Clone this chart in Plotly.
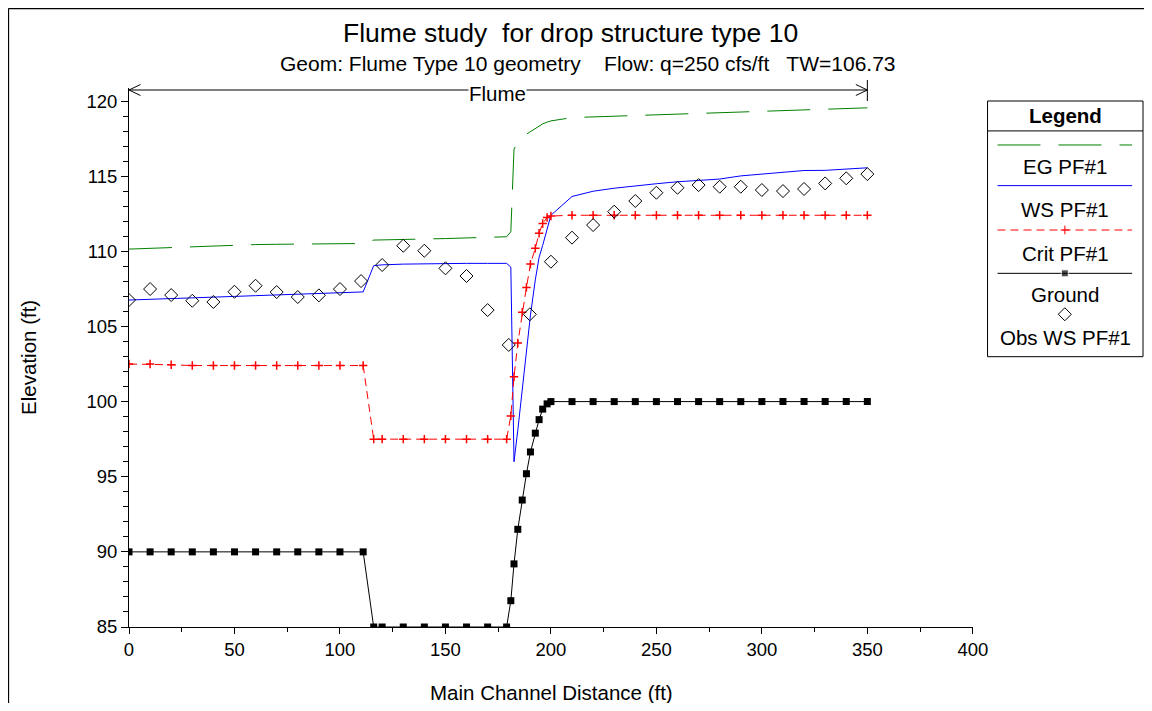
import plotly.graph_objects as go

# cross-section stations (ft) shared by the profile series
stations = [0, 10, 20, 30, 40, 50, 60, 70, 80, 90, 100, 111, 116, 120, 130, 140, 150, 160,
            170, 179, 181, 182.5, 184.3, 186.4, 188.4, 190.3, 192.6, 194.4, 196.1, 198.2, 200,
            210, 220, 230, 240, 250, 260, 270, 280, 290, 300, 310, 320, 330, 340, 350]

eg_pf1 = [110.15, 110.2, 110.27, 110.32, 110.38, 110.42, 110.45, 110.47, 110.49, 110.5, 110.5,
          110.52, 110.75, 110.77, 110.8, 110.82, 110.85, 110.88, 110.93, 110.97, 111.3, 116.8,
          117.25, 117.6, 117.8, 117.96, 118.2, 118.35, 118.48, 118.6, 118.68, 118.9, 118.95,
          118.98, 119.02, 119.07, 119.12, 119.18, 119.23, 119.3, 119.35, 119.4, 119.45, 119.48,
          119.52, 119.55]

ws_pf1 = [106.76, 106.8, 106.85, 106.9, 106.95, 107.0, 107.05, 107.1, 107.15, 107.2, 107.25,
          107.3, 109.05, 109.1, 109.15, 109.18, 109.2, 109.2, 109.2, 109.2, 108.95, 96.0, 98.1,
          100.8, 103.3, 105.75, 108.1, 109.6, 110.4, 111.4, 112.4, 113.65, 114.0, 114.2, 114.37,
          114.5, 114.63, 114.72, 114.81, 115.02, 115.15, 115.28, 115.38, 115.39, 115.45, 115.56]

crit_pf1 = [102.5, 102.5, 102.45, 102.4, 102.4, 102.4, 102.4, 102.4, 102.4, 102.4, 102.4, 102.4,
            97.5, 97.5, 97.5, 97.5, 97.5, 97.5, 97.5, 97.5, 99.05, 101.65, 103.9, 105.95, 107.6,
            109.15, 110.2, 111.2, 111.85, 112.25, 112.35, 112.4, 112.4, 112.4, 112.4, 112.4,
            112.4, 112.4, 112.4, 112.4, 112.4, 112.4, 112.4, 112.4, 112.4, 112.4]

ground = [90, 90, 90, 90, 90, 90, 90, 90, 90, 90, 90, 90, 85, 85, 85, 85, 85, 85, 85, 85,
          86.75, 89.2, 91.5, 93.45, 95.2, 96.65, 97.9, 98.8, 99.5, 99.85, 100, 100, 100, 100,
          100, 100, 100, 100, 100, 100, 100, 100, 100, 100, 100, 100]

obs_x = [0, 10, 20, 30, 40, 50, 60, 70, 80, 90, 100, 110, 120, 130, 140, 150, 160, 170, 180,
         190, 200, 210, 220, 230, 240, 250, 260, 270, 280, 290, 300, 310, 320, 330, 340, 350]
obs_ws = [106.76, 107.49, 107.09, 106.71, 106.63, 107.31, 107.71, 107.29, 106.96, 107.07,
          107.49, 108.02, 109.09, 110.37, 110.04, 108.87, 108.36, 106.09, 103.77, 105.81,
          109.31, 110.91, 111.75, 112.64, 113.35, 113.9, 114.23, 114.41, 114.3, 114.3, 114.08,
          114.01, 114.15, 114.52, 114.86, 115.14]

flume_reach = [0, 350]
legend_names = ["EG PF#1", "WS PF#1", "Crit PF#1", "Ground", "Obs WS PF#1"]

FONT = "Liberation Sans, Arial, sans-serif"
GREEN, BLUE, RED = "#008000", "#0000ff", "#ff0000"

# the page shows the figure 8px in from the window corner and 16px narrower than asked
OFF = 8
W, H = 1152, 695
WEFF = W - 16
ML, MR, MT, MB = 121, 2, 80, 76
PW, PH = WEFF - ML - MR, H - MT - MB
XMAX = 400
XDOM = (972 - OFF - ML) / PW


def px(x):  # window pixel -> paper x
    return (x - OFF - ML) / PW


def py(y):  # window pixel -> paper y
    return (H - MB - (y - OFF)) / PH


def xd(v):  # data distance -> paper x
    return v / XMAX * XDOM


fig = go.Figure()

fig.add_trace(go.Scatter(x=stations, y=eg_pf1, mode="lines",
                         line=dict(color=GREEN, width=1, dash="43px,18px")))
fig.add_trace(go.Scatter(x=stations, y=ws_pf1, mode="lines",
                         line=dict(color=BLUE, width=1)))
fig.add_trace(go.Scatter(x=stations, y=crit_pf1, mode="lines+markers",
                         line=dict(color=RED, width=1, dash="8px,5px"),
                         marker=dict(symbol="cross-thin", size=6, color=RED,
                                     line=dict(color=RED, width=1.5))))
fig.add_trace(go.Scatter(x=stations, y=ground, mode="lines+markers",
                         line=dict(color="black", width=1),
                         marker=dict(symbol="square", size=7, color="black")))
fig.add_trace(go.Scatter(x=obs_x, y=obs_ws, mode="markers",
                         marker=dict(symbol="diamond-open", size=10, color="black",
                                     line=dict(color="black", width=1))))

# legend samples drawn in a hidden 0..1 axis pair over the legend box
lx0, lx1 = px(986.7), min(px(1143), 1.0)
ly0, ly1 = py(356.7), py(101)
rows = [0.828, 0.669, 0.4955, 0.326, 0.166]
labels_y = [0.743, 0.574, 0.404, 0.244, 0.074]
fig.add_trace(go.Scatter(x=[0.064, 0.93], y=[rows[0]] * 2, mode="lines", xaxis="x2", yaxis="y2",
                         line=dict(color=GREEN, width=1, dash="43px,18px")))
fig.add_trace(go.Scatter(x=[0.064, 0.93], y=[rows[1]] * 2, mode="lines", xaxis="x2", yaxis="y2",
                         line=dict(color=BLUE, width=1)))
fig.add_trace(go.Scatter(x=[0.064, 0.497, 0.93], y=[rows[2]] * 3, mode="lines+markers",
                         xaxis="x2", yaxis="y2", line=dict(color=RED, width=1, dash="8px,5px"),
                         marker=dict(symbol="cross-thin", size=[0, 6, 0], color=RED,
                                     line=dict(color=RED, width=1.5))))
fig.add_trace(go.Scatter(x=[0.064, 0.497, 0.93], y=[rows[3]] * 3, mode="lines+markers",
                         xaxis="x2", yaxis="y2", line=dict(color="black", width=1),
                         marker=dict(symbol="square", size=[0, 7, 0], color="black")))
fig.add_trace(go.Scatter(x=[0.497], y=[rows[4]], mode="markers", xaxis="x2", yaxis="y2",
                         marker=dict(symbol="diamond-open", size=10, color="black",
                                     line=dict(color="black", width=1))))

mid = dict(xanchor="center", yanchor="middle", showarrow=False)
annotations = [
    dict(text="Flume study  for drop structure type 10", x=px(570), y=py(33), xref="paper",
         yref="paper", font=dict(size=26.5), **mid),
    dict(text="Geom: Flume Type 10 geometry    Flow: q=250 cfs/ft   TW=106.73", x=px(588),
         y=py(64), xref="paper", yref="paper", font=dict(size=21), **mid),
    dict(text="Elevation (ft)", x=px(28), y=py(357), xref="paper", yref="paper",
         textangle=-90, font=dict(size=20.5), **mid),
    dict(text="Main Channel Distance (ft)", x=px(551), y=py(692), xref="paper", yref="paper",
         font=dict(size=20.5), **mid),
    dict(text="Flume", x=xd(174.5), y=py(93), xref="paper", yref="paper", bgcolor="white",
         borderpad=0, font=dict(size=20.5), **mid),
    dict(text="<b>Legend</b>", x=0.5, y=0.945, xref="x2", yref="y2", font=dict(size=20.5),
         **mid),
]
for name, yy in zip(legend_names, labels_y):
    annotations.append(dict(text=name, x=0.5, y=yy, xref="x2", yref="y2",
                            font=dict(size=20.5), **mid))

# flume reach dimension line: open chevrons at both ends and an end bar
fx0, fx1 = xd(flume_reach[0]), xd(flume_reach[1])
ay, ah, aw = py(90), 5.5 / PH, 11.5 / PW
shapes = [
    dict(type="line", xref="paper", yref="paper", x0=fx0, x1=fx1, y0=ay, y1=ay,
         line=dict(color="black", width=1)),
    dict(type="path", xref="paper", yref="paper",
         path=f"M{fx0 + aw},{ay + ah} L{fx0},{ay} L{fx0 + aw},{ay - ah}",
         line=dict(color="black", width=1)),
    dict(type="path", xref="paper", yref="paper",
         path=f"M{fx1 - aw},{ay + ah} L{fx1},{ay} L{fx1 - aw},{ay - ah}",
         line=dict(color="black", width=1)),
    dict(type="line", xref="paper", yref="paper", x0=fx1, x1=fx1, y0=py(80), y1=py(101),
         line=dict(color="black", width=1)),
    # legend box and its title rule
    dict(type="rect", xref="paper", yref="paper", x0=lx0, x1=lx1, y0=ly0, y1=ly1,
         line=dict(color="black", width=1)),
    dict(type="line", xref="x2", yref="y2", x0=0, x1=1, y0=0.883, y1=0.883,
         line=dict(color="black", width=1)),
    # outer frame (left and top edges)
    dict(type="line", xref="paper", yref="paper", x0=px(8.5), x1=px(8.5), y0=py(8.5),
         y1=py(720), line=dict(color="black", width=1.5)),
    dict(type="line", xref="paper", yref="paper", x0=px(8.5), x1=px(1160), y0=py(8.5),
         y1=py(8.5), line=dict(color="black", width=1.5)),
]

fig.update_layout(
    width=W, height=H,
    margin=dict(l=ML, r=MR, t=MT, b=MB),
    paper_bgcolor="white", plot_bgcolor="white",
    font=dict(family=FONT, size=18, color="black"),
    showlegend=False,
    annotations=annotations,
    shapes=shapes,
    xaxis=dict(domain=[0, XDOM], range=[0, XMAX], dtick=50, tick0=0, showgrid=False,
               zeroline=False, showline=True, linecolor="black", linewidth=1,
               ticks="outside", ticklen=6, tickcolor="black",
               minor=dict(dtick=25, ticks="outside", ticklen=4, tickcolor="black"),
               tickfont=dict(size=18.5)),
    yaxis=dict(range=[85, 120.87], dtick=5, tick0=85, showgrid=False, zeroline=False,
               showline=True, linecolor="black", linewidth=1, ticks="outside", ticklen=7,
               tickcolor="black",
               minor=dict(dtick=1, ticks="outside", ticklen=5, tickcolor="black"),
               tickfont=dict(size=18.5)),
    xaxis2=dict(domain=[lx0, lx1], range=[0, 1], visible=False, anchor="y2"),
    yaxis2=dict(domain=[ly0, ly1], range=[0, 1], visible=False, anchor="x2"),
)

fig.write_html("out.html")
